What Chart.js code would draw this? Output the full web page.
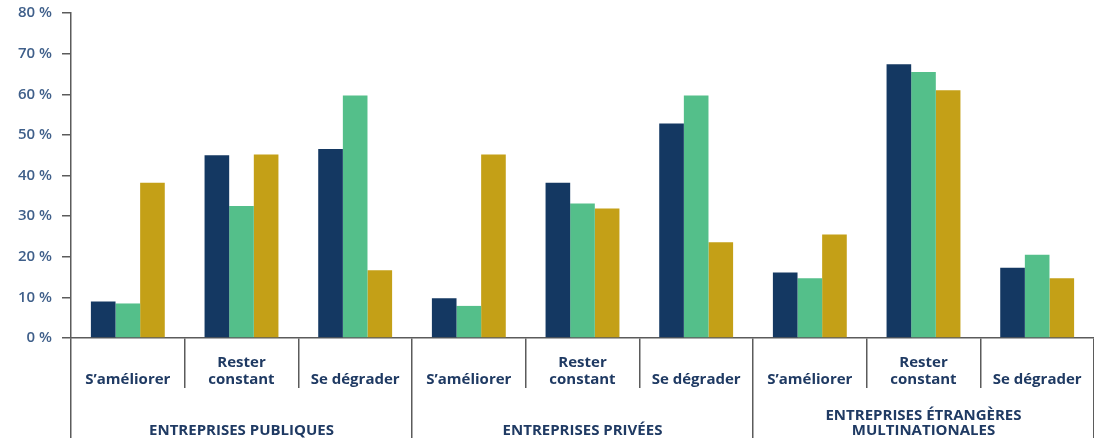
<!DOCTYPE html>
<html><head><meta charset="utf-8">
<script src="https://cdn.jsdelivr.net/npm/chart.js@4.4.1/dist/chart.umd.min.js"></script>
<style>html,body{margin:0;padding:0;background:#fff}#wrap{width:1094px;height:438px;position:relative}</style>
</head><body><div id="wrap"><canvas id="c"></canvas></div>
<script>
const categories = ["S’améliorer", ["Rester","constant"], "Se dégrader",
                    "S’améliorer", ["Rester","constant"], "Se dégrader",
                    "S’améliorer", ["Rester","constant"], "Se dégrader"];
const groups = ["ENTREPRISES PUBLIQUES", "ENTREPRISES PRIVÉES", ["ENTREPRISES ÉTRANGÈRES","MULTINATIONALES"]];
const series1 = [9, 45, 46.5, 9.8, 38.2, 52.8, 16.1, 67.4, 17.3];
const series2 = [8.5, 32.5, 59.7, 7.9, 33.1, 59.7, 14.7, 65.5, 20.5];
const series3 = [38.2, 45.2, 16.7, 45.2, 31.9, 23.6, 25.5, 61.0, 14.7];
const yTicks = [0,10,20,30,40,50,60,70,80];

const axisGrey = '#5b5b5b';
const labelNavy = '#1f3a63';
const tickBlue = '#3f5f8a';
const font = "'Open Sans', sans-serif";

new Chart(document.getElementById('c'), {
  type: 'bar',
  data: {
    labels: categories,
    datasets: [
      {data: series1, backgroundColor: '#143862', borderWidth: 0},
      {data: series2, backgroundColor: '#54bf8a', borderWidth: 0},
      {data: series3, backgroundColor: '#c4a017', borderWidth: 0}
    ]
  },
  options: {
    responsive: true,
    maintainAspectRatio: false,
    animation: false,
    categoryPercentage: 0.65,
    barPercentage: 1,
    layout: {padding: {top: 13, right: 0, left: 0, bottom: 0}},
    plugins: {legend: {display: false}, tooltip: {enabled: false}},
    scales: {
      y: {
        min: 0, max: 80,
        afterBuildTicks: s => { s.ticks = yTicks.map(v => ({value: v})); },
        afterFit: s => { s.width = 71; s.paddingTop = 0; s.paddingBottom = 0; },
        grid: {drawOnChartArea: false, drawTicks: true, tickLength: 9, color: axisGrey, lineWidth: 1.5},
        border: {display: true, color: axisGrey, width: 1.5},
        ticks: {
          color: tickBlue, padding: 10,
          font: {family: font, size: 15, weight: '600'},
          callback: v => v + ' %'
        }
      },
      x: {
        weight: 0,
        afterFit: s => { s.height = 50; },
        grid: {offset: true, drawOnChartArea: false, drawTicks: true, tickLength: 50, color: axisGrey, lineWidth: 1.5},
        border: {display: true, color: axisGrey, width: 1.5},
        ticks: {
          color: labelNavy, padding: -25, crossAlign: 'far', maxRotation: 0, autoSkip: false,
          font: {family: font, size: 15, weight: '700', lineHeight: 1.12}
        }
      },
      x2: {
        type: 'category',
        position: 'bottom',
        weight: 1,
        labels: groups,
        offset: true,
        afterFit: s => { s.height = 50; },
        grid: {offset: true, drawOnChartArea: false, drawTicks: true, tickLength: 50, color: axisGrey, lineWidth: 1.5},
        border: {display: false},
        ticks: {
          color: labelNavy, padding: -22, crossAlign: 'far', maxRotation: 0, autoSkip: false,
          font: {family: font, size: 15, weight: '700', lineHeight: 0.95}
        }
      }
    }
  }
});
</script></body></html>
